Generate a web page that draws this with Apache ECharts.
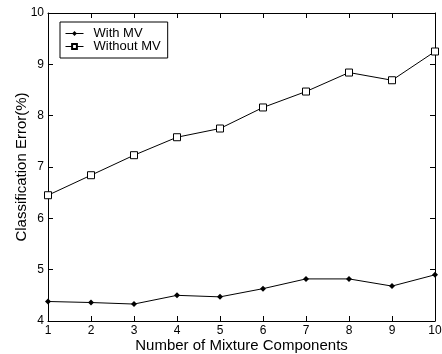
<!DOCTYPE html>
<html>
<head>
<meta charset="utf-8">
<script src="https://cdn.jsdelivr.net/npm/echarts@6/dist/echarts.min.js"></script>
<style>
  html, body { margin: 0; padding: 0; background: #fff; }
  #chart { width: 442px; height: 354px; }
</style>
</head>
<body>
<div id="chart"></div>
<script>
// components on the x axis
const components = [1, 2, 3, 4, 5, 6, 7, 8, 9, 10];
// classification error (%)
const withMV = [4.38, 4.36, 4.33, 4.50, 4.47, 4.63, 4.82, 4.82, 4.68, 4.90];
const withoutMV = [6.45, 6.84, 7.23, 7.58, 7.75, 8.16, 8.47, 8.84, 8.69, 9.25];

const font = 'Liberation Sans, Arial, sans-serif';
const chart = echarts.init(document.getElementById('chart'));

const pairs = vals => components.map((c, i) => [c, vals[i]]);

const tickStyle = { show: true, inside: true, length: 5, lineStyle: { color: '#000', width: 1 } };
const lineStyleAxis = { show: true, lineStyle: { color: '#000', width: 1 } };

chart.setOption({
  animation: false,
  grid: { left: 48, top: 13, right: 7, bottom: 33, outerBoundsMode: 'none' },
  legend: {
    left: 60, top: 22,
    orient: 'vertical',
    itemWidth: 18, itemHeight: 6, itemGap: 0,
    padding: [5, 7, 5, 5],
    borderColor: '#000', borderWidth: 1,
    backgroundColor: '#fff',
    lineStyle: { width: 1 },
    textStyle: { fontFamily: font, fontSize: 13, lineHeight: 13, color: '#000', padding: [0, 0, 0, 5] },
    data: ['With MV', 'Without MV']
  },
  xAxis: [{
    type: 'value', min: 1, max: 10, interval: 1,
    name: 'Number of Mixture Components', nameLocation: 'middle', nameGap: 17,
    nameMoveOverlap: false,
    nameTextStyle: { fontFamily: font, fontSize: 15, color: '#000' },
    axisLine: lineStyleAxis, axisTick: tickStyle,
    axisLabel: { fontFamily: font, fontSize: 12, color: '#000', margin: 4 },
    splitLine: { show: false }
  }, {
    type: 'value', min: 1, max: 10, interval: 1, position: 'top',
    axisLine: lineStyleAxis, axisTick: tickStyle,
    axisLabel: { show: false }, splitLine: { show: false }
  }],
  yAxis: [{
    type: 'value', min: 4, max: 10, interval: 1,
    name: 'Classification Error(%)', nameLocation: 'middle', nameGap: 19,
    nameMoveOverlap: false,
    nameTextStyle: { fontFamily: font, fontSize: 15, color: '#000' },
    axisLine: lineStyleAxis, axisTick: tickStyle,
    axisLabel: { fontFamily: font, fontSize: 12, color: '#000', margin: 4 },
    splitLine: { show: false }
  }, {
    type: 'value', min: 4, max: 10, interval: 1, position: 'right',
    axisLine: lineStyleAxis, axisTick: tickStyle,
    axisLabel: { show: false }, splitLine: { show: false }
  }],
  series: [{
    name: 'With MV', type: 'line',
    data: pairs(withMV),
    symbol: 'diamond', symbolSize: 6,
    lineStyle: { color: '#000', width: 1 },
    itemStyle: { color: '#000' }
  }, {
    name: 'Without MV', type: 'line',
    data: pairs(withoutMV),
    symbol: 'rect', symbolSize: 7,
    lineStyle: { color: '#000', width: 1 },
    itemStyle: { color: '#fff', borderColor: '#000', borderWidth: 1 }
  }]
});
</script>
</body>
</html>
